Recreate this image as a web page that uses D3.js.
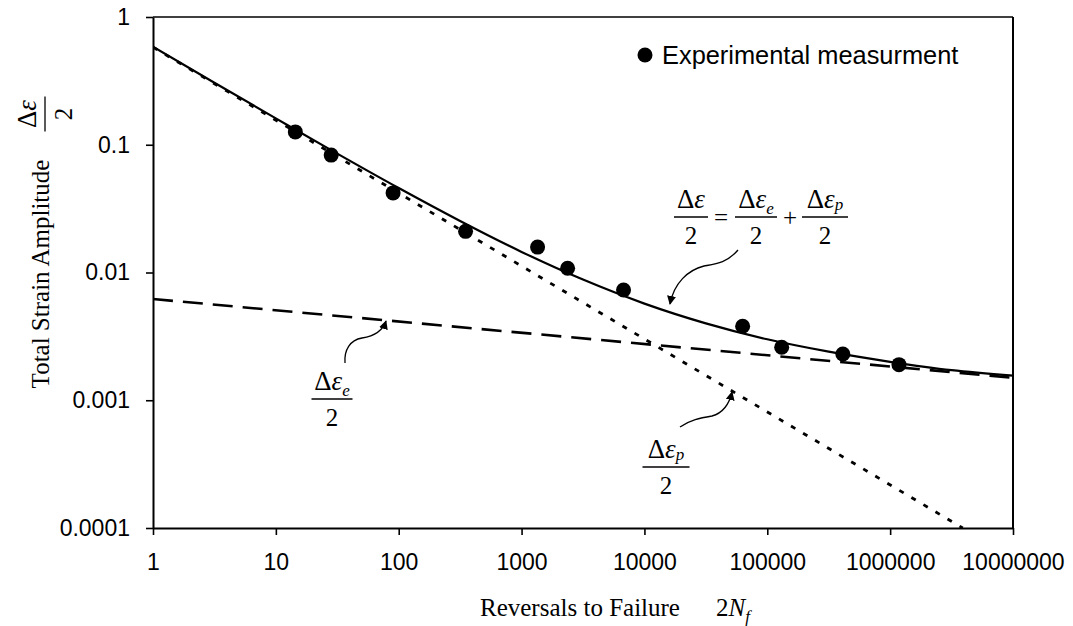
<!DOCTYPE html>
<html>
<head>
<meta charset="utf-8">
<script src="https://cdn.jsdelivr.net/npm/d3@7"></script>
<style>
  html, body { margin: 0; padding: 0; background: #fff; }
  svg { display: block; }
</style>
</head>
<body>
<svg id="chart" width="1073" height="626"></svg>
<script>
// ---- data ----
const xTicks = [1, 10, 100, 1000, 10000, 100000, 1000000, 10000000];
const xTickLabels = ["1", "10", "100", "1000", "10000", "100000", "1000000", "10000000"];
const yTicks = [0.0001, 0.001, 0.01, 0.1, 1];
const yTickLabels = ["0.0001", "0.001", "0.01", "0.1", "1"];

// experimental measurements
const expN   = [14.4, 28.2, 90, 350, 1350, 2370, 6760, 63000, 131000, 412000, 1180000];
const expEps = [0.126, 0.083, 0.042, 0.021, 0.0158, 0.0108, 0.0073, 0.0038, 0.0026, 0.0023, 0.0019];

// elastic line (dashed) end points
const elasticN   = [1, 10000000];
const elasticEps = [0.0062, 0.0015];

// plastic line (dotted) end points
const plasticN   = [1, 3900000];
const plasticEps = [0.58, 0.0001];

// total strain curve (solid)
const totalN   = [1, 3.16, 10, 31.6, 100, 316, 1000, 3162, 10000, 31620, 100000, 316200, 1000000, 3162000, 10000000];
const totalEps = [0.586, 0.306, 0.161, 0.0852, 0.0458, 0.0253, 0.0145, 0.0088, 0.00571, 0.0040, 0.0030, 0.0024, 0.0020, 0.00172, 0.00156];

// ---- layout ----
const svg = d3.select("#chart");
const L = 153, R = 1013, T = 17, B = 528;
const x = d3.scaleLog().domain([1, 1e7]).range([L, R]);
const y = d3.scaleLog().domain([1e-4, 1]).range([B, T]);

const sans = "'Liberation Sans', Arial, sans-serif";
const serif = "'Liberation Serif', 'Times New Roman', serif";

// frame: top and right borders
svg.append("line").attr("x1", L).attr("x2", R).attr("y1", T).attr("y2", T)
  .attr("stroke", "#000").attr("stroke-width", 1.6);
svg.append("line").attr("x1", R).attr("x2", R).attr("y1", T).attr("y2", B)
  .attr("stroke", "#000").attr("stroke-width", 2);

// axes
const xAxis = d3.axisBottom(x).tickValues(xTicks)
  .tickFormat((d, i) => xTickLabels[i]).tickSize(7).tickSizeOuter(0).tickPadding(19);
const yAxis = d3.axisLeft(y).tickValues(yTicks)
  .tickFormat((d, i) => yTickLabels[i]).tickSize(7).tickSizeOuter(0).tickPadding(16);

const gx = svg.append("g").attr("transform", `translate(0,${B})`).call(xAxis);
const gy = svg.append("g").attr("transform", `translate(${L},0)`).call(yAxis);
[gx, gy].forEach(g => {
  g.select(".domain").attr("stroke", "#000").attr("stroke-width", 2);
  g.selectAll(".tick line").attr("stroke", "#000").attr("stroke-width", 1.6);
  g.selectAll(".tick text").attr("fill", "#000").style("font-family", sans).style("font-size", "23px");
});

// clip
svg.append("clipPath").attr("id", "plotclip").append("rect")
  .attr("x", L).attr("y", T - 2).attr("width", R - L + 8).attr("height", B - T + 8);

const plot = svg.append("g").attr("clip-path", "url(#plotclip)");
const line = d3.line().x(d => x(d[0])).y(d => y(d[1]));

plot.append("path")
  .datum(elasticN.map((n, i) => [n, elasticEps[i]]))
  .attr("d", line).attr("fill", "none").attr("stroke", "#000")
  .attr("stroke-width", 2.6).attr("stroke-dasharray", "20,10");

plot.append("path")
  .datum(plasticN.map((n, i) => [n, plasticEps[i]]))
  .attr("d", line).attr("fill", "none").attr("stroke", "#000")
  .attr("stroke-width", 2.8).attr("stroke-dasharray", "5,9");

plot.append("path")
  .datum(totalN.map((n, i) => [n, totalEps[i]]))
  .attr("d", line.curve(d3.curveMonotoneX)).attr("fill", "none").attr("stroke", "#000")
  .attr("stroke-width", 2.2);

plot.selectAll("circle.exp")
  .data(expN.map((n, i) => [n, expEps[i]]))
  .join("circle").attr("class", "exp")
  .attr("cx", d => x(d[0])).attr("cy", d => y(d[1])).attr("r", 7.5).attr("fill", "#000");

// legend
svg.append("circle").attr("cx", 645).attr("cy", 55).attr("r", 7.5).attr("fill", "#000");
svg.append("text").attr("x", 662).attr("y", 64).text("Experimental measurment")
  .style("font-family", sans).style("font-size", "25.4px").attr("fill", "#000");

// axis titles
const xt = svg.append("text").attr("x", 480).attr("y", 616)
  .style("font-family", serif).style("font-size", "25px").attr("fill", "#000");
xt.append("tspan").text("Reversals to Failure");
const xt2 = svg.append("text").attr("x", 716).attr("y", 616)
  .style("font-family", serif).style("font-size", "25px").attr("fill", "#000");
xt2.append("tspan").text("2");
xt2.append("tspan").style("font-style", "italic").text("N");
xt2.append("tspan").style("font-style", "italic").style("font-size", "17px").attr("dy", 6).text("f");

svg.append("text")
  .attr("transform", "translate(49,274) rotate(-90)")
  .attr("text-anchor", "middle")
  .style("font-family", serif).style("font-size", "25px").attr("fill", "#000")
  .text("Total Strain Amplitude");

// fraction helper
function frac(g, cx, by, w, sub) {
  const t = g.append("text").attr("x", cx).attr("y", by - 9).attr("text-anchor", "middle")
    .style("font-family", serif).style("font-size", "27px").attr("fill", "#000");
  t.append("tspan").text("\u0394");
  t.append("tspan").style("font-style", "italic").text("\u03B5");
  if (sub) {
    t.append("tspan").style("font-style", "italic").style("font-size", "17px")
      .attr("dy", sub === "p" ? 2 : 6).text(sub);
  }
  g.append("line").attr("x1", cx - w / 2).attr("x2", cx + w / 2)
    .attr("y1", by).attr("y2", by).attr("stroke", "#000").attr("stroke-width", 1.3);
  g.append("text").attr("x", cx).attr("y", by + 27).attr("text-anchor", "middle")
    .style("font-family", serif).style("font-size", "25px").attr("fill", "#000").text("2");
}

// y-title fraction (rotated)
const gyf = svg.append("g").attr("transform", "translate(45,114) rotate(-90)");
frac(gyf, 0, 0, 35, null);

// main equation
const ge = svg.append("g");
frac(ge, 691, 217, 34, null);
ge.append("text").attr("x", 721).attr("y", 226).attr("text-anchor", "middle")
  .style("font-family", serif).style("font-size", "25px").text("=");
frac(ge, 756, 217, 42, "e");
ge.append("text").attr("x", 790).attr("y", 226).attr("text-anchor", "middle")
  .style("font-family", serif).style("font-size", "25px").text("+");
frac(ge, 825, 217, 46, "p");

// labels
frac(svg.append("g"), 332, 399, 41, "e");
frac(svg.append("g"), 666, 467, 47, "p");

// arrows
const defs = svg.append("defs");
defs.append("marker").attr("id", "ah").attr("viewBox", "0 0 10 10")
  .attr("refX", 9).attr("refY", 5).attr("markerWidth", 9).attr("markerHeight", 9)
  .attr("markerUnits", "userSpaceOnUse").attr("orient", "auto")
  .append("path").attr("d", "M0,0 L10,5 L0,10 Z").attr("fill", "#000");

const arrows = [
  "M738,250 C727,263 715,264 704,266 C688,270 674,283 670,304",
  "M345,363 C344,350 350,340 362,338 C375,336 383,330 386,321",
  "M680,427 C690,420 700,418 712,416 C723,413 729,405 732,392"
];
arrows.forEach(d => svg.append("path").attr("d", d).attr("fill", "none")
  .attr("stroke", "#000").attr("stroke-width", 1.3).attr("marker-end", "url(#ah)"));
</script>
</body>
</html>
